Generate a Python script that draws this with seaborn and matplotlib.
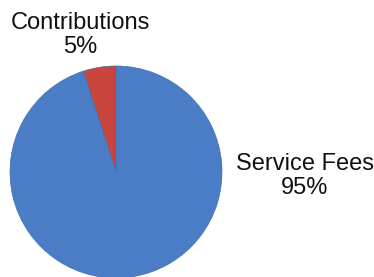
import matplotlib
matplotlib.use("Agg")
import matplotlib.pyplot as plt
import seaborn as sns

categories = ["Contributions", "Service Fees"]
values = [5, 95]
labels = ["Contributions\n5%", "Service Fees\n95%"]
colors = ["#C9453D", "#4A7DC6"]

sns.set_style("white")
plt.rcParams['font.family'] = ['Liberation Sans', 'DejaVu Sans']

fig = plt.figure(figsize=(3.74, 2.77), dpi=100)
ax = fig.add_axes([0, 0, 1, 1])

wedges, _ = ax.pie(values, colors=colors, startangle=90, counterclock=True,
                   center=(116, 105), radius=106, frame=True,
                   wedgeprops=dict(edgecolor="#3f6fb3", linewidth=0.5))
ax.set_xlim(0, 374)
ax.set_ylim(0, 277)
ax.set_aspect('equal')
ax.axis('off')

ax.text(80, 242, labels[0], ha='center', va='center', fontsize=17,
        linespacing=1.15, color='#111111')
ax.text(305, 101, labels[1], ha='center', va='center', fontsize=17,
        linespacing=1.15, color='#111111')

fig.savefig("out.png", dpi=100)
